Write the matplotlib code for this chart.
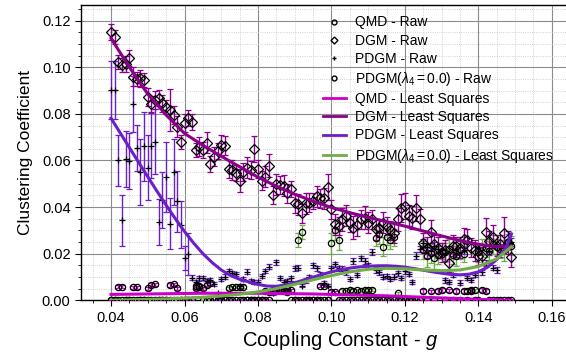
import matplotlib
matplotlib.use("Agg")
import matplotlib.pyplot as plt
from matplotlib.lines import Line2D
from matplotlib.ticker import MultipleLocator, FormatStrFormatter

plt.rcParams["font.family"] = ["Liberation Sans", "DejaVu Sans"]
plt.rcParams["mathtext.fontset"] = "custom"
plt.rcParams["mathtext.rm"] = "Liberation Sans"
plt.rcParams["mathtext.it"] = "Liberation Sans:italic"

# ── raw data (coupling constant g) ───────────────────────────────────────────
coupling = [
    0.040, 0.041, 0.042, 0.043, 0.044, 0.045, 0.046, 0.047, 0.048, 0.049,
    0.050, 0.051, 0.052, 0.053, 0.054, 0.055, 0.056, 0.057, 0.058, 0.059,
    0.060, 0.061, 0.062, 0.063, 0.064, 0.065, 0.066, 0.067, 0.068, 0.069,
    0.070, 0.071, 0.072, 0.073, 0.074, 0.075, 0.076, 0.077, 0.078, 0.079,
    0.080, 0.081, 0.082, 0.083, 0.084, 0.085, 0.086, 0.087, 0.088, 0.089,
    0.090, 0.091, 0.092, 0.093, 0.094, 0.095, 0.096, 0.097, 0.098, 0.099,
    0.100, 0.101, 0.102, 0.103, 0.104, 0.105, 0.106, 0.107, 0.108, 0.109,
    0.110, 0.111, 0.112, 0.113, 0.114, 0.115, 0.116, 0.117, 0.118, 0.119,
    0.120, 0.121, 0.122, 0.123, 0.124, 0.125, 0.126, 0.127, 0.128, 0.129,
    0.130, 0.131, 0.132, 0.133, 0.134, 0.135, 0.136, 0.137, 0.138, 0.139,
    0.140, 0.141, 0.142, 0.143, 0.144, 0.145, 0.146, 0.147, 0.148, 0.149,
]

qmd_raw = [
    0.0, 0.0, 0.0058, 0.0058, 0.0, 0.0, 0.0056, 0.0055, 0.0, 0.0,
    0.0051, 0.0066, 0.0068, 0.0, 0.0, 0.0, 0.0066, 0.0069, 0.0051, 0.0,
    0.0, 0.0, 0.0, 0.0051, 0.0062, 0.0051, 0.0066, 0.0075, 0.0, 0.0,
    0.0, 0.0, 0.0, 0.0, 0.0, 0.0, 0.0, 0.0, 0.0, 0.0,
    0.0, 0.0, 0.0, 0.0, 0.0045, 0.0040, 0.0050, 0.0045, 0.0048, 0.0042,
    0.0, 0.0, 0.0, 0.0, 0.0, 0.0, 0.0, 0.0063, 0.0063, 0.0,
    0.0037, 0.0034, 0.0, 0.0, 0.0, 0.0, 0.0, 0.0, 0.0, 0.0,
    0.0, 0.0, 0.0, 0.0, 0.0, 0.0, 0.0, 0.0, 0.0, 0.0,
    0.0, 0.0, 0.0, 0.0, 0.0, 0.0041, 0.0, 0.0038, 0.0, 0.0040,
    0.0044, 0.0, 0.0042, 0.0, 0.0039, 0.0, 0.0041, 0.0, 0.0043, 0.0,
    0.0, 0.0044, 0.0040, 0.0, 0.0, 0.0, 0.0, 0.0, 0.0, 0.0,
]
qmd_err = [
    0.0, 0.0, 0.0006, 0.0006, 0.0, 0.0, 0.0006, 0.0006, 0.0, 0.0,
    0.0006, 0.0007, 0.0007, 0.0, 0.0, 0.0, 0.0007, 0.0007, 0.0006, 0.0,
    0.0, 0.0, 0.0, 0.0006, 0.0007, 0.0006, 0.0007, 0.0008, 0.0, 0.0,
    0.0, 0.0, 0.0, 0.0, 0.0, 0.0, 0.0, 0.0, 0.0, 0.0,
    0.0, 0.0, 0.0, 0.0, 0.0006, 0.0006, 0.0006, 0.0006, 0.0006, 0.0006,
    0.0, 0.0, 0.0, 0.0, 0.0, 0.0, 0.0, 0.0007, 0.0007, 0.0,
    0.0006, 0.0006, 0.0, 0.0, 0.0, 0.0, 0.0, 0.0, 0.0, 0.0,
    0.0, 0.0, 0.0, 0.0, 0.0, 0.0, 0.0, 0.0, 0.0, 0.0,
    0.0, 0.0, 0.0, 0.0, 0.0, 0.0008, 0.0, 0.0008, 0.0, 0.0008,
    0.0008, 0.0, 0.0008, 0.0, 0.0008, 0.0, 0.0008, 0.0, 0.0009, 0.0,
    0.0, 0.0009, 0.0009, 0.0, 0.0, 0.0, 0.0, 0.0, 0.0, 0.0,
]

dgm_raw = [
    0.1152, 0.1131, 0.1024, 0.1009, 0.1015, 0.1041, 0.0959, 0.0950, 0.0952, 0.0945,
    0.0873, 0.0841, 0.0860, 0.0867, 0.0845, 0.0831, 0.0818, 0.0795, 0.0745, 0.0680,
    0.0760, 0.0781, 0.0764, 0.0645, 0.0659, 0.0645, 0.0676, 0.0585, 0.0616, 0.0640,
    0.0666, 0.0663, 0.0563, 0.0559, 0.0545, 0.0513, 0.0550, 0.0569, 0.0559, 0.0648,
    0.0563, 0.0513, 0.0530, 0.0577, 0.0452, 0.0498, 0.0495, 0.0492, 0.0459, 0.0478,
    0.0416, 0.0413, 0.0373, 0.0416, 0.0419, 0.0427, 0.0447, 0.0438, 0.0438, 0.0487,
    0.0390, 0.0326, 0.0319, 0.0347, 0.0362, 0.0333, 0.0311, 0.0322, 0.0347, 0.0354,
    0.0333, 0.0347, 0.0305, 0.0310, 0.0333, 0.0319, 0.0300, 0.0290, 0.0347, 0.0397,
    0.0405, 0.0362, 0.0354, 0.0397, 0.0347, 0.0247, 0.0226, 0.0294, 0.0240, 0.0226,
    0.0204, 0.0215, 0.0161, 0.0233, 0.0233, 0.0225, 0.0262, 0.0259, 0.0226, 0.0215,
    0.0190, 0.0190, 0.0294, 0.0254, 0.0273, 0.0233, 0.0240, 0.0287, 0.0247, 0.0187,
]
dgm_err = [
    0.0035, 0.0030, 0.0030, 0.0030, 0.0035, 0.0035, 0.0040, 0.0030, 0.0035, 0.0030,
    0.0040, 0.0035, 0.0040, 0.0035, 0.0035, 0.0030, 0.0090, 0.0040, 0.0045, 0.0030,
    0.0040, 0.0035, 0.0035, 0.0030, 0.0040, 0.0035, 0.0045, 0.0035, 0.0040, 0.0035,
    0.0045, 0.0040, 0.0040, 0.0045, 0.0035, 0.0050, 0.0040, 0.0045, 0.0040, 0.0055,
    0.0040, 0.0040, 0.0045, 0.0050, 0.0040, 0.0045, 0.0040, 0.0045, 0.0040, 0.0035,
    0.0040, 0.0045, 0.0040, 0.0045, 0.0040, 0.0035, 0.0045, 0.0040, 0.0045, 0.0055,
    0.0040, 0.0045, 0.0040, 0.0050, 0.0045, 0.0040, 0.0050, 0.0045, 0.0040, 0.0050,
    0.0045, 0.0040, 0.0045, 0.0040, 0.0045, 0.0040, 0.0040, 0.0045, 0.0050, 0.0060,
    0.0055, 0.0045, 0.0050, 0.0055, 0.0045, 0.0040, 0.0045, 0.0050, 0.0040, 0.0045,
    0.0040, 0.0045, 0.0040, 0.0045, 0.0040, 0.0045, 0.0050, 0.0045, 0.0040, 0.0045,
    0.0040, 0.0040, 0.0060, 0.0045, 0.0050, 0.0045, 0.0040, 0.0070, 0.0050, 0.0045,
]

pdgm_raw = [
    0.0904, 0.0904, 0.0600, 0.0343, 0.0607, 0.0597, 0.0843, 0.0653, 0.0550, 0.0660,
    0.0569, 0.0664, 0.0681, 0.0336, 0.0429, 0.0529, 0.0329, 0.0550, 0.0424, 0.0324,
    0.0181, 0.0200, 0.0097, 0.0080, 0.0094, 0.0094, 0.0083, 0.0087, 0.0069, 0.0030,
    0.0090, 0.0101, 0.0126, 0.0118, 0.0112, 0.0060, 0.0090, 0.0123, 0.0083, 0.0080,
    0.0080, 0.0104, 0.0126, 0.0144, 0.0030, 0.0163, 0.0094, 0.0080, 0.0083, 0.0094,
    0.0137, 0.0140, 0.0063, 0.0085, 0.0100, 0.0151, 0.0137, 0.0110, 0.0075, 0.0063,
    0.0137, 0.0154, 0.0137, 0.0135, 0.0120, 0.0090, 0.0169, 0.0109, 0.0180, 0.0169,
    0.0150, 0.0209, 0.0130, 0.0120, 0.0101, 0.0104, 0.0090, 0.0101, 0.0115, 0.0095,
    0.0125, 0.0113, 0.0080, 0.0190, 0.0220, 0.0245, 0.0230, 0.0210, 0.0235, 0.0220,
    0.0200, 0.0085, 0.0080, 0.0109, 0.0200, 0.0076, 0.0215, 0.0095, 0.0087, 0.0109,
    0.0225, 0.0120, 0.0159, 0.0210, 0.0140, 0.0130, 0.0200, 0.0225, 0.0244, 0.0250,
]
pdgm_err = [
    0.0125, 0.0125, 0.0110, 0.0110, 0.0120, 0.0120, 0.0120, 0.0100, 0.0140, 0.0150,
    0.0140, 0.0140, 0.0140, 0.0100, 0.0120, 0.0150, 0.0110, 0.0140, 0.0130, 0.0100,
    0.0050, 0.0090, 0.0010, 0.0009, 0.0010, 0.0009, 0.0009, 0.0009, 0.0008, 0.0006,
    0.0009, 0.0010, 0.0010, 0.0009, 0.0010, 0.0008, 0.0009, 0.0010, 0.0009, 0.0009,
    0.0009, 0.0010, 0.0010, 0.0011, 0.0006, 0.0011, 0.0009, 0.0009, 0.0009, 0.0010,
    0.0011, 0.0011, 0.0008, 0.0009, 0.0010, 0.0011, 0.0011, 0.0010, 0.0009, 0.0008,
    0.0011, 0.0012, 0.0011, 0.0011, 0.0010, 0.0009, 0.0012, 0.0010, 0.0012, 0.0012,
    0.0011, 0.0013, 0.0011, 0.0010, 0.0010, 0.0010, 0.0009, 0.0010, 0.0010, 0.0009,
    0.0011, 0.0010, 0.0009, 0.0015, 0.0015, 0.0016, 0.0015, 0.0014, 0.0015, 0.0015,
    0.0014, 0.0009, 0.0009, 0.0010, 0.0014, 0.0009, 0.0015, 0.0009, 0.0009, 0.0010,
    0.0015, 0.0011, 0.0013, 0.0015, 0.0012, 0.0012, 0.0015, 0.0016, 0.0017, 0.0018,
]

pdgm0_raw = [
    0.0, 0.0, 0.0, 0.0, 0.0, 0.0, 0.0, 0.0, 0.0, 0.0,
    0.0, 0.0, 0.0, 0.0, 0.0, 0.0, 0.0, 0.0, 0.0, 0.0,
    0.0, 0.0, 0.0, 0.0060, 0.0055, 0.0, 0.0, 0.0, 0.0, 0.0,
    0.0, 0.0, 0.0051, 0.0055, 0.0058, 0.0057, 0.0058, 0.0, 0.0, 0.0,
    0.0, 0.0, 0.0040, 0.0035, 0.0038, 0.0042, 0.0044, 0.0040, 0.0035, 0.0,
    0.0, 0.0259, 0.0292, 0.0, 0.0, 0.0, 0.0, 0.0, 0.0, 0.0,
    0.0245, 0.0300, 0.0259, 0.0040, 0.0038, 0.0044, 0.0040, 0.0042, 0.0041, 0.0045,
    0.0043, 0.0046, 0.0266, 0.0283, 0.0230, 0.0273, 0.0259, 0.0270, 0.0030, 0.0,
    0.0, 0.0, 0.0, 0.0, 0.0, 0.0216, 0.0188, 0.0202, 0.0180, 0.0195,
    0.0210, 0.0205, 0.0220, 0.0195, 0.0190, 0.0215, 0.0200, 0.0040, 0.0038, 0.0042,
    0.0205, 0.0230, 0.0225, 0.0210, 0.0240, 0.0230, 0.0220, 0.0215, 0.0250, 0.0235,
]
pdgm0_err = [
    0.0, 0.0, 0.0, 0.0, 0.0, 0.0, 0.0, 0.0, 0.0, 0.0,
    0.0, 0.0, 0.0, 0.0, 0.0, 0.0, 0.0, 0.0, 0.0, 0.0,
    0.0, 0.0, 0.0, 0.0007, 0.0007, 0.0, 0.0, 0.0, 0.0, 0.0,
    0.0, 0.0, 0.0007, 0.0007, 0.0007, 0.0007, 0.0007, 0.0, 0.0, 0.0,
    0.0, 0.0, 0.0006, 0.0006, 0.0006, 0.0006, 0.0006, 0.0006, 0.0006, 0.0,
    0.0, 0.0030, 0.0030, 0.0, 0.0, 0.0, 0.0, 0.0, 0.0, 0.0,
    0.0045, 0.0040, 0.0045, 0.0007, 0.0007, 0.0007, 0.0007, 0.0007, 0.0007, 0.0007,
    0.0007, 0.0007, 0.0035, 0.0040, 0.0040, 0.0035, 0.0040, 0.0035, 0.0006, 0.0,
    0.0, 0.0, 0.0, 0.0, 0.0, 0.0040, 0.0045, 0.0040, 0.0045, 0.0040,
    0.0035, 0.0040, 0.0045, 0.0040, 0.0045, 0.0040, 0.0035, 0.0007, 0.0007, 0.0007,
    0.0040, 0.0035, 0.0040, 0.0045, 0.0040, 0.0035, 0.0040, 0.0045, 0.0035, 0.0040,
]

# ── least-squares curves ─────────────────────────────────────────────────────
fit_g = [0.040, 0.045, 0.050, 0.055, 0.060, 0.065, 0.070, 0.075, 0.080, 0.085,
         0.090, 0.095, 0.100, 0.105, 0.110, 0.115, 0.120, 0.125, 0.130, 0.135,
         0.140, 0.145, 0.149]
qmd_fit = [0.0025, 0.0026, 0.0027, 0.0028, 0.0029, 0.0030, 0.0030, 0.0030, 0.0030, 0.0029,
           0.0028, 0.0027, 0.0025, 0.0023, 0.0021, 0.0019, 0.0016, 0.0013, 0.0010, 0.0007,
           0.0004, 0.0002, 0.0000]
dgm_fit = [0.1124, 0.1000, 0.0885, 0.0795, 0.0716, 0.0665, 0.0618, 0.0573, 0.0528, 0.0490,
           0.0455, 0.0425, 0.0398, 0.0376, 0.0356, 0.0337, 0.0318, 0.0297, 0.0276, 0.0256,
           0.0240, 0.0230, 0.0232]
pdgm0_fit = [0.0000, 0.0002, 0.0004, 0.0006, 0.0009, 0.0013, 0.0018, 0.0026, 0.0036, 0.0050,
             0.0068, 0.0088, 0.0106, 0.0122, 0.0133, 0.0137, 0.0135, 0.0130, 0.0127, 0.0130,
             0.0145, 0.0178, 0.0230]

# the PDGM curve bends sharply, so it is read at a finer spacing
pdgm_fit_g = [0.0400, 0.0425, 0.0450, 0.0475, 0.0500, 0.0525, 0.0550, 0.0575, 0.0600,
              0.0625, 0.0650, 0.0675, 0.0700, 0.0725, 0.0750, 0.0775, 0.0800, 0.0825,
              0.0850, 0.0875, 0.0900, 0.0925, 0.0950, 0.0975, 0.1000, 0.1025, 0.1050,
              0.1075, 0.1100, 0.1125, 0.1150, 0.1175, 0.1200, 0.1225, 0.1250, 0.1275,
              0.1300, 0.1325, 0.1350, 0.1375, 0.1400, 0.1425, 0.1450, 0.1475, 0.1490]
pdgm_fit = [0.0781, 0.0718, 0.0655, 0.0592, 0.0530, 0.0468, 0.0408, 0.0350, 0.0295,
            0.0245, 0.0200, 0.0162, 0.0130, 0.0106, 0.0090, 0.0079, 0.0068, 0.0061,
            0.0060, 0.0066, 0.0075, 0.0087, 0.0099, 0.0111, 0.0122, 0.0131, 0.0138,
            0.0143, 0.0146, 0.0148, 0.0148, 0.0146, 0.0142, 0.0136, 0.0129, 0.0122,
            0.0116, 0.0111, 0.0109, 0.0112, 0.0122, 0.0142, 0.0175, 0.0225, 0.0285]

C_QMD = "#CC00CC"
C_DGM = "#8B008B"
C_PDGM = "#6A1FC8"
C_PDGM0 = "#70AD47"

fig = plt.figure(figsize=(5.66, 3.52), dpi=100)
# axes run a little past the right edge of the picture, as in the original crop
ax = fig.add_axes([0.143, 0.147, 0.917, 0.838])

eb = dict(linestyle="none", mfc="none", mec="black", mew=0.9,
          elinewidth=1.0, capsize=2, capthick=1.0)
ax.errorbar(coupling, pdgm0_raw, yerr=pdgm0_err, fmt="o", ms=4.5, ecolor=C_PDGM0, zorder=3, **eb)
ax.errorbar(coupling, qmd_raw, yerr=qmd_err, fmt="o", ms=4.5, ecolor=C_QMD, zorder=3, **eb)
ax.errorbar(coupling, pdgm_raw, yerr=pdgm_err, fmt="+", ms=4, ecolor=C_PDGM, zorder=3, **eb)
ax.errorbar(coupling, dgm_raw, yerr=dgm_err, fmt="D", ms=5, ecolor=C_DGM, zorder=3, **eb)

ax.plot(fit_g, qmd_fit, color=C_QMD, lw=2.2, zorder=4)
ax.plot(fit_g, dgm_fit, color=C_DGM, lw=2.2, zorder=4)
ax.plot(pdgm_fit_g, pdgm_fit, color=C_PDGM, lw=2.2, zorder=4)
ax.plot(fit_g, pdgm0_fit, color=C_PDGM0, lw=2.2, zorder=4)

ax.set_xlim(0.0318, 0.1731)
ax.set_ylim(0.0, 0.1266)
ax.xaxis.set_major_locator(MultipleLocator(0.02))
ax.xaxis.set_minor_locator(MultipleLocator(0.005))
ax.yaxis.set_major_locator(MultipleLocator(0.02))
ax.yaxis.set_minor_locator(MultipleLocator(0.005))
ax.xaxis.set_major_formatter(FormatStrFormatter("%.2f"))
ax.yaxis.set_major_formatter(FormatStrFormatter("%.2f"))
ax.grid(which="major", color="#8c8c8c", linewidth=0.8, zorder=0)
ax.grid(which="minor", color="#c4c4c4", linewidth=0.6, linestyle=":", zorder=0)
ax.set_axisbelow(True)
ax.tick_params(which="major", direction="out", length=4, width=0.8, labelsize=10.5)
ax.tick_params(which="minor", direction="out", length=2, width=0.6)
for s in ax.spines.values():
    s.set_linewidth(1.0)

ax.set_xlabel("Coupling Constant - $g$", fontsize=14.5, labelpad=3)
ax.set_ylabel("Clustering Coefficient", fontsize=12.5, labelpad=6)

handles = [
    Line2D([0], [0], marker="o", ms=3.5, mfc="none", mec="black", ls="none",
           label="QMD - Raw"),
    Line2D([0], [0], marker="D", ms=3.5, mfc="none", mec="black", ls="none",
           label="DGM - Raw"),
    Line2D([0], [0], marker="+", ms=3.5, color="black", ls="none",
           label="PDGM - Raw"),
    Line2D([0], [0], marker="o", ms=3.5, mfc="none", mec="black", ls="none",
           label=r"PDGM($\lambda_4 = 0.0$) - Raw"),
    Line2D([0], [0], color=C_QMD, lw=2, label="QMD - Least Squares"),
    Line2D([0], [0], color=C_DGM, lw=2, label="DGM - Least Squares"),
    Line2D([0], [0], color=C_PDGM, lw=2, label="PDGM - Least Squares"),
    Line2D([0], [0], color=C_PDGM0, lw=2, label=r"PDGM($\lambda_4 = 0.0$) - Least Squares"),
]
ax.legend(handles=handles, loc="upper right", frameon=False, fontsize=10,
          handlelength=1.65, handletextpad=0.65, labelspacing=0.3,
          borderaxespad=0.0, bbox_to_anchor=(0.988, 0.972),
          bbox_transform=fig.transFigure)

fig.savefig("out.png", dpi=100)
